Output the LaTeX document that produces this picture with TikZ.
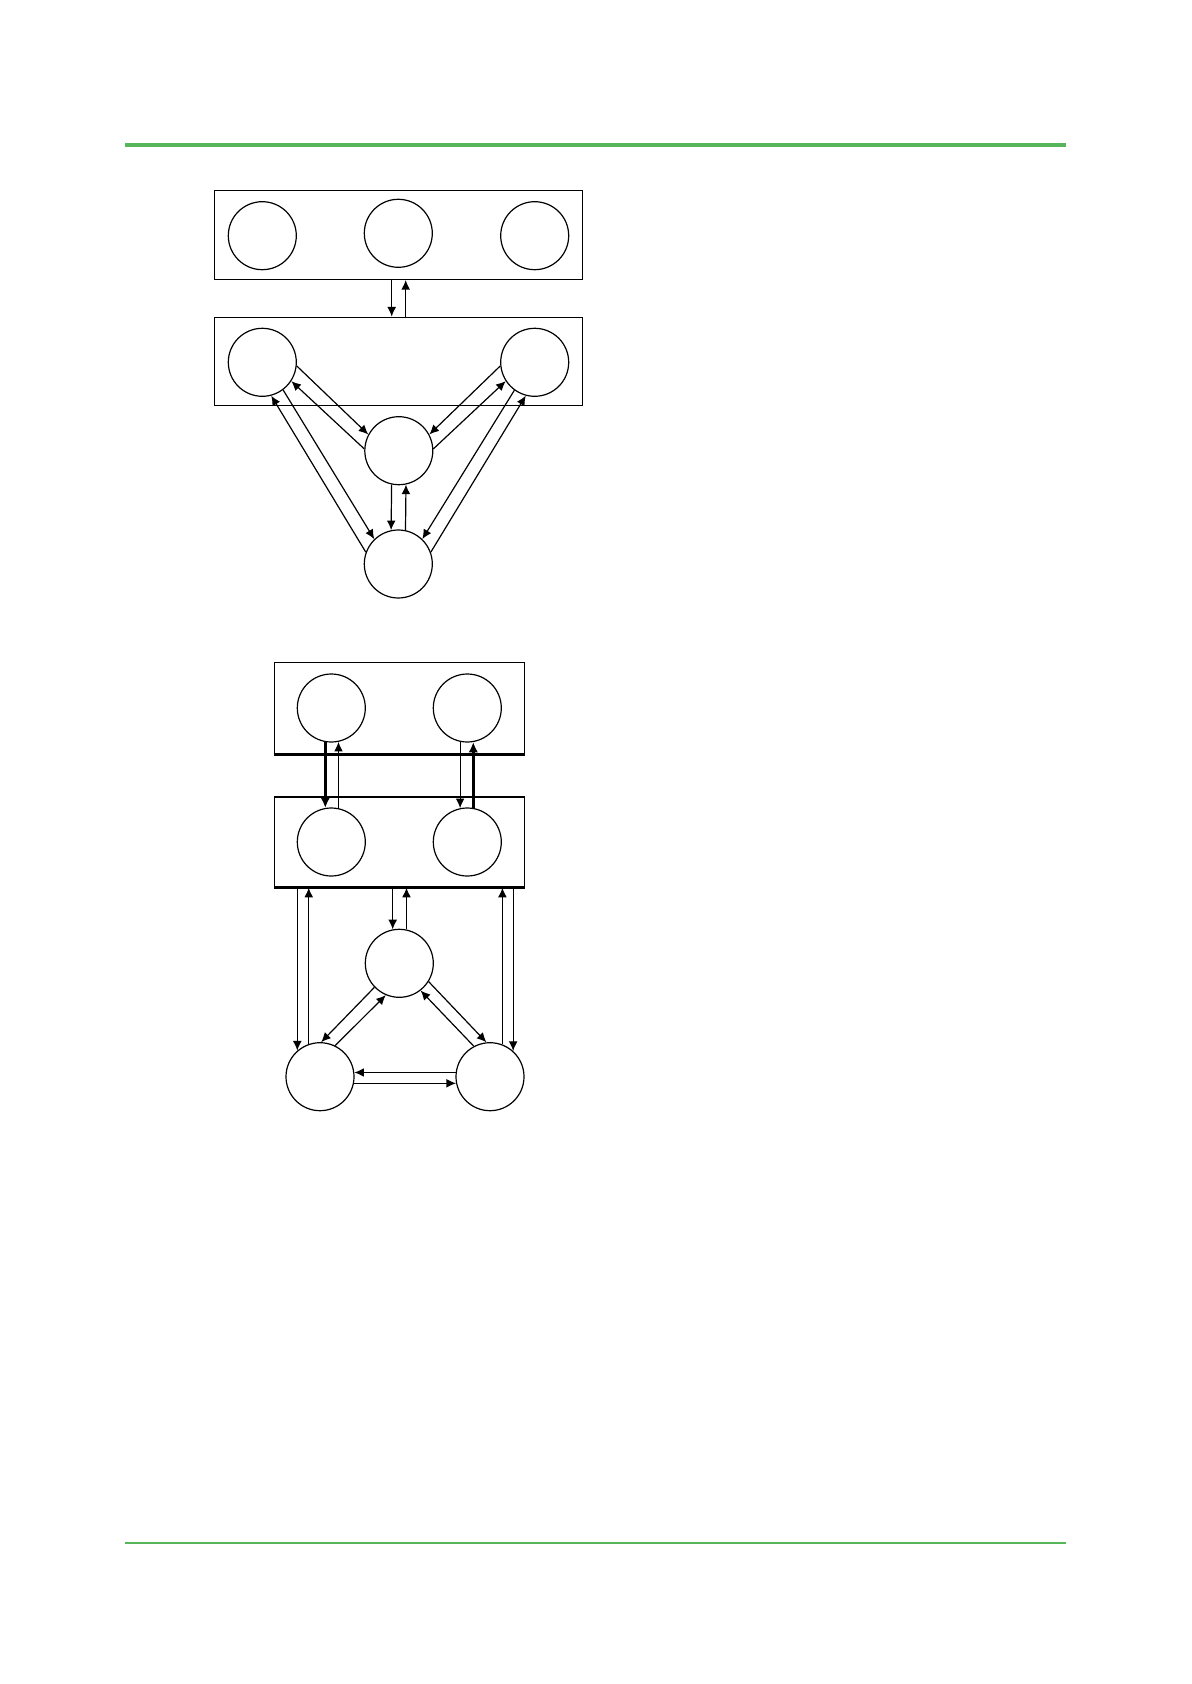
\documentclass[tikz,border=0pt]{standalone}
\usetikzlibrary{arrows.meta}
\definecolor{rulegreen}{RGB}{88,182,90}
\begin{document}
\begin{tikzpicture}[x=0.5pt,y=-0.5pt,
  circ/.style={circle,draw,line width=0.6pt,minimum size=34pt,inner sep=0pt},
  box/.style={rectangle,draw,line width=0.7pt,inner sep=0pt},
  arr/.style={line width=0.6pt,-{Latex[length=4.8pt,width=4.4pt]}},
  thickarr/.style={line width=1.3pt,-{Latex[length=5.2pt,width=4.8pt]}},
  greenrule/.style={draw=rulegreen}]
\useasboundingbox (0,0) rectangle (1191,1684);
% green rules
\coordinate (g1a) at (125,144.7);
\coordinate (g1b) at (1066,144.7);
\coordinate (g2a) at (125,1542.7);
\coordinate (g2b) at (1066,1542.7);
\draw[greenrule,line width=2pt] (g1a) -- (g1b);
\draw[greenrule,line width=1.1pt] (g2a) -- (g2b);

% ---------- first diagram ----------
\node[box,minimum width=184.2pt,minimum height=44.5pt] (T1) at (398.5,234.8) {};
\node[circ] (a1) at (262.3,235.7) {};
\node[circ] (a2) at (398.3,233.3) {};
\node[circ] (a3) at (534.7,235.7) {};
\node[box,minimum width=184.2pt,minimum height=44pt] (T2) at (398.5,361.3) {};
\node[circ] (L) at (262.3,362.3) {};
\node[circ] (R) at (534.7,362.3) {};
\node[circ] (M) at (398.8,450.7) {};
\node[circ] (B) at (398.3,564) {};

\draw[arr] ([xshift=-3.4pt]T1.south) -- ([xshift=-3.4pt]T2.north);
\draw[arr] ([xshift=3.6pt]T2.north) -- ([xshift=3.6pt]T1.south);

\draw[arr] (L.-6) -- (M.152);
\draw[arr] (M.177) -- (L.-33);
\draw[arr] (R.186) -- (M.28);
\draw[arr] (M.3) -- (R.213);
\draw[arr] (L.-53) -- (B.134);
\draw[arr] (B.160) -- (L.-75);
\draw[arr] (R.234) -- (B.46);
\draw[arr] (B.20) -- (R.255);
\draw[arr] (M.-102) -- (B.102);
\draw[arr] (B.78) -- (M.-78);

% ---------- second diagram ----------
\node[box,minimum width=125pt,minimum height=45.5pt] (U1) at (399.3,708.2) {};
\draw[line width=1.3pt] (U1.south west) -- (U1.south east);
\node[circ] (c1) at (331.3,708) {};
\node[circ] (c2) at (467.3,708) {};
\node[box,minimum width=125pt,minimum height=45pt] (U2) at (399.3,842) {};
\draw[line width=1.3pt] (U2.south west) -- (U2.south east);
\node[circ] (c3) at (331.3,842) {};
\node[circ] (c4) at (467.3,842) {};
\node[circ] (M2) at (399.3,963.3) {};
\node[circ] (D1) at (320,1076.7) {};
\node[circ] (D2) at (490,1076.7) {};

\draw[thickarr] (c1.-100) -- (c3.100);
\draw[arr] (c3.78) -- (c1.-78);
\draw[arr] (c2.-102) -- (c4.102);
\draw[thickarr] (c4.80) -- (c2.-80);

\draw[arr] (U2.south -| D1.131) -- (D1.131);
\draw[arr] (D1.109) -- (U2.south -| D1.109);
\draw[arr] (U2.south -| M2.101) -- (M2.101);
\draw[arr] (M2.78) -- (U2.south -| M2.78);
\draw[arr] (D2.69) -- (U2.south -| D2.69);
\draw[arr] (U2.south -| D2.48) -- (D2.48);

\draw[arr] (M2.224) -- (D1.88);
\draw[arr] (D1.64) -- (M2.247);
\draw[arr] (M2.-32) -- (D2.96);
\draw[arr] (D2.118) -- (M2.-52);
\draw[arr] (D2.173) -- (D1.7);
\draw[arr] (D1.-11) -- (D2.191);
\end{tikzpicture}
\end{document}
